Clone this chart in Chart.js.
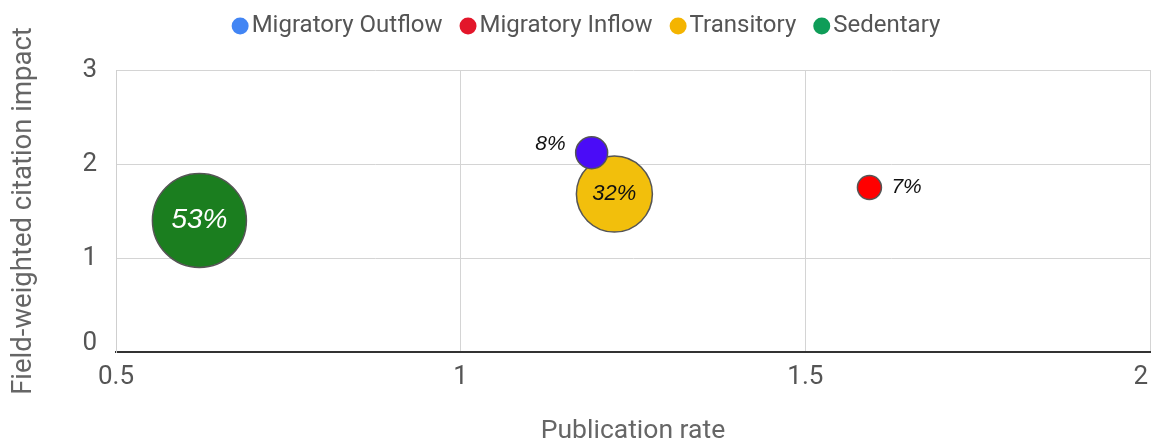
<!DOCTYPE html>
<html>
<head>
<meta charset="utf-8">
<script src="https://cdn.jsdelivr.net/npm/chart.js@4.4.1/dist/chart.umd.min.js"></script>
<style>
  html, body { margin: 0; padding: 0; background: #fff; }
</style>
</head>
<body>
<canvas id="bubble-chart" width="1151" height="441"></canvas>
<script>
// Data
const categories = ['Migratory Outflow', 'Migratory Inflow', 'Transitory', 'Sedentary'];
const publicationRate = [1.19, 1.593, 1.223, 0.621];
const citationImpact = [2.12, 1.75, 1.68, 1.40];
const shareLabels = ['8%', '7%', '32%', '53%'];
const xTicks = [0.5, 1, 1.5, 2];
const yTicks = [0, 1, 2, 3];

// Styling
const bubbleColors = ['#4a0cf7', '#ff0000', '#f2bf0c', '#1b7e1f'];
const legendColors = ['#4285f4', '#e3162a', '#f4b400', '#0f9d58'];
const bubbleRadius = [16, 12, 38, 47];
const labelStyle = [
  { place: 'left', font: 'italic 21px "Liberation Sans"', color: '#111', dy: -9 },
  { place: 'right', font: 'italic 21px "Liberation Sans"', color: '#111', dy: 0 },
  { place: 'center', font: 'italic 22px "Liberation Sans"', color: '#111', dy: 0 },
  { place: 'center', font: 'italic 28px "Liberation Sans"', color: '#fff', dy: 0 }
];

const topLegend = {
  id: 'topLegend',
  afterDraw(chart) {
    const ctx = chart.ctx;
    ctx.save();
    ctx.font = '24px Roboto';
    ctx.textBaseline = 'middle';
    const r = 8.5, gapIn = 3, gapOut = 17, y = 26;
    const widths = categories.map(c => ctx.measureText(c).width);
    const total = widths.reduce((a, w) => a + 2 * r + gapIn + w, 0) + gapOut * (categories.length - 1);
    let x = 586 - total / 2;
    categories.forEach((c, i) => {
      ctx.fillStyle = legendColors[i];
      ctx.beginPath();
      ctx.arc(x + r, y, r, 0, Math.PI * 2);
      ctx.fill();
      x += 2 * r + gapIn;
      ctx.fillStyle = '#555';
      ctx.fillText(c, x, y);
      x += widths[i] + gapOut;
    });
    ctx.restore();
  }
};

// last x label sits inside the right edge, the 0 on the y axis sits above the baseline
const edgeTicks = {
  id: 'edgeTicks',
  beforeDraw(chart) {
    const xItems = chart.scales.x.getLabelItems();
    const yItems = chart.scales.y.getLabelItems();
    if (xItems._moved) return;
    const last = xItems[xItems.length - 1];
    if (last) {
      last.options.textAlign = 'right';
      last.options.translation[0] -= 2;
    }
    if (yItems[0]) yItems[0].options.translation[1] -= 9;
    xItems._moved = true;
  }
};

const shareText = {
  id: 'shareText',
  afterDatasetsDraw(chart) {
    const ctx = chart.ctx;
    ctx.save();
    ctx.textBaseline = 'middle';
    chart.data.datasets.forEach((ds, i) => {
      const el = chart.getDatasetMeta(i).data[0];
      if (!el) return;
      const { x, y } = el.getProps(['x', 'y'], true);
      const r = el.options.radius;
      const s = labelStyle[i];
      ctx.font = s.font;
      ctx.fillStyle = s.color;
      if (s.place === 'left') {
        ctx.textAlign = 'right';
        ctx.fillText(shareLabels[i], x - r - 10, y + s.dy);
      } else if (s.place === 'right') {
        ctx.textAlign = 'left';
        ctx.fillText(shareLabels[i], x + r + 10, y + s.dy);
      } else {
        ctx.textAlign = 'center';
        ctx.fillText(shareLabels[i], x, y + s.dy);
      }
    });
    ctx.restore();
  }
};

const ctx = document.getElementById('bubble-chart').getContext('2d');
const chart = new Chart(ctx, {
  type: 'bubble',
  data: {
    datasets: categories.map((name, i) => ({
      label: name,
      data: [{ x: publicationRate[i], y: citationImpact[i] }],
      radius: bubbleRadius[i],
      backgroundColor: bubbleColors[i],
      borderColor: '#555',
      borderWidth: 1.5,
      hoverRadius: 0
    }))
  },
  options: {
    responsive: false,
    devicePixelRatio: 1,
    animation: false,
    layout: { autoPadding: false, padding: { top: 70, right: 0, bottom: 0, left: 0 } },
    plugins: {
      legend: { display: false },
      tooltip: { enabled: false }
    },
    scales: {
      x: {
        type: 'linear',
        min: xTicks[0],
        max: xTicks[xTicks.length - 1],
        afterBuildTicks: scale => { scale.ticks = xTicks.map(v => ({ value: v })); },
        grid: { color: '#d4d4d4', drawTicks: false },
        border: { color: '#333', width: 2 },
        ticks: {
          padding: 10,
          maxRotation: 0,
          color: '#555',
          font: { family: 'Roboto', size: 26 },
          callback: v => String(v)
        },
        title: {
          display: true,
          text: 'Publication rate',
          color: '#666',
          font: { family: 'Roboto', size: 26.5, lineHeight: 1 },
          padding: { top: 0, bottom: -4 }
        },
        afterFit: scale => {
          scale.height = 89;
          scale.paddingLeft = 0;
          scale.paddingRight = 1;
        }
      },
      y: {
        type: 'linear',
        min: yTicks[0],
        max: yTicks[yTicks.length - 1],
        afterBuildTicks: scale => { scale.ticks = yTicks.map(v => ({ value: v })); },
        grid: { color: '#d4d4d4', drawTicks: false },
        border: { color: '#cfcfcf', width: 1 },
        ticks: {
          padding: 19,
          color: '#555',
          font: { family: 'Roboto', size: 26 },
          callback: v => String(v)
        },
        title: {
          display: true,
          text: 'Field-weighted citation impact',
          color: '#666',
          font: { family: 'Roboto', size: 27.5 },
          padding: { top: 8, bottom: 0 }
        },
        afterFit: scale => { scale.width = 116; }
      }
    }
  },
  plugins: [topLegend, edgeTicks, shareText]
});
</script>
</body>
</html>
